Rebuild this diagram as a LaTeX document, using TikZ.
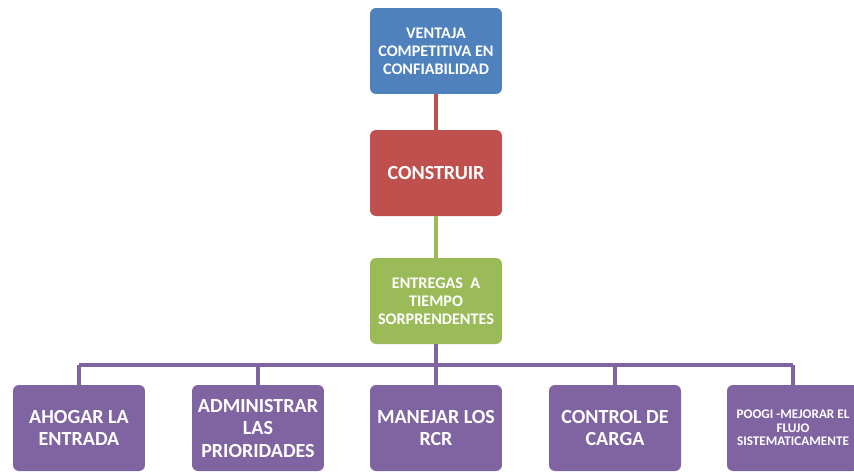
\documentclass[tikz,border=0pt]{standalone}
\usepackage{fontspec}
\setmainfont{Carlito}
\usepackage{xcolor}
\usetikzlibrary{positioning,calc}

\definecolor{boxblue}{HTML}{4F81BD}
\definecolor{boxred}{HTML}{C0504D}
\definecolor{boxgreen}{HTML}{9BBB59}
\definecolor{boxpurple}{HTML}{8064A2}

\begin{document}
\begin{tikzpicture}[x=0.02cm, y=-0.02cm,
    box/.style={rounded corners=0.12cm, minimum width=2.64cm, minimum height=1.72cm,
        inner sep=0pt, align=center, text=white, font=\bfseries},
    small/.style={font=\fontsize{9.2}{10.2}\selectfont\bfseries},
    big/.style={font=\fontsize{11.4}{12.8}\selectfont\bfseries},
    link/.style={line width=2pt}]
    \useasboundingbox (0,0) rectangle (854,471);

    % Top levels
    \node[box, small, fill=boxblue] (ventaja) at (436,51) {VENTAJA\\COMPETITIVA EN\\CONFIABILIDAD};
    \node[box, fill=boxred, font=\fontsize{11.4}{13}\selectfont\bfseries] (construir) at (436,173) {CONSTRUIR};
    \node[box, small, fill=boxgreen] (entregas) at (436,301) {ENTREGAS~ A\\TIEMPO\\SORPRENDENTES};

    % Links between the top levels
    \draw[link, boxred] (ventaja) -- (construir);
    \draw[link, boxgreen] (construir) -- (entregas);

    % Bottom row
    \node[box, big, fill=boxpurple] (ahogar) at (79,428) {AHOGAR LA\\ENTRADA};
    \node[box, big, fill=boxpurple] (admin) at (258,428) {ADMINISTRAR\\LAS\\PRIORIDADES};
    \node[box, big, fill=boxpurple] (rcr) at (436,428) {MANEJAR LOS\\RCR};
    \node[box, big, fill=boxpurple] (carga) at (615,428) {CONTROL DE\\CARGA};
    \node[box, fill=boxpurple, font=\fontsize{7.5}{7.8}\selectfont\bfseries] (poogi) at (793,428) {POOGI -MEJORAR EL\\FLUJO\\SISTEMATICAMENTE};

    % Tree lines
    \coordinate (bar) at (436,365);
    \draw[link, boxpurple] (entregas) -- (bar);
    \draw[link, boxpurple] (bar -| ahogar.north) -- (bar -| poogi.north);
    \foreach \n in {ahogar, admin, rcr, carga, poogi}
        \draw[link, boxpurple] (bar -| \n.north) -- (\n.north);
\end{tikzpicture}
\end{document}
